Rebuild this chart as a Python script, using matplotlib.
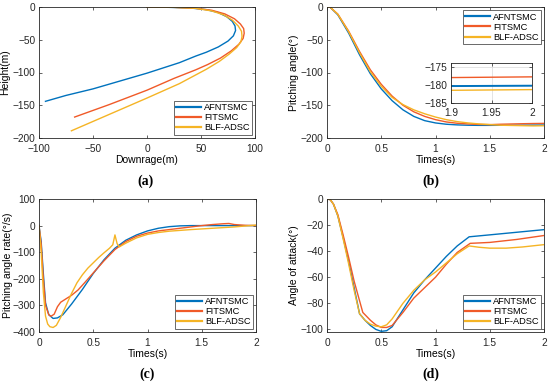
import matplotlib
matplotlib.use("Agg")
import matplotlib.pyplot as plt

plt.rcParams['font.family'] = ['Liberation Sans', 'DejaVu Sans']

labels = ["AFNTSMC", "FITSMC", "BLF-ADSC"]
colors = ["#0072BD", "#F05A28", "#F5B425"]

# ---- (a) trajectory: downrage (m) vs height (m)
a_blue_x = [0, 20, 40, 55, 66, 74, 79, 81.5, 82, 80, 75, 66, 55, 45, 30, 0, -25, -50, -75, -94]
a_blue_y = [0, -0.5, -1.5, -4, -8.5, -15, -22, -29, -36, -44, -52, -61, -69, -75, -85, -101, -113, -125, -135, -144]
a_red_x = [0, 25, 45, 60, 72, 81, 86.5, 89.5, 90, 89, 85, 78, 68, 56, 45, 25, 0, -35, -67]
a_red_y = [0, -0.5, -2, -5, -10.5, -18, -26, -33, -40, -48, -57, -67, -78, -88, -96, -109, -127, -149, -168]
a_yel_x = [0, 25, 45, 60, 71, 79, 84.5, 87.5, 88, 87, 83, 76, 67, 55, 30, 0, -35, -70]
a_yel_y = [0, -0.5, -2, -6, -12, -20, -29, -37, -45, -53, -62, -72, -83, -95, -117, -139, -164, -189]

# ---- (b) pitching angle (deg) vs time (s)
b_t = [0, 0.03, 0.1, 0.2, 0.3, 0.4, 0.5, 0.6, 0.7, 0.8, 0.9, 1.0, 1.1, 1.2, 1.3, 1.4, 1.5, 1.6, 1.8, 1.9, 2.0]
b_blue = [0, -0.5, -12, -40, -73, -102, -125, -143, -157, -167, -173.5, -177, -179, -180, -180.5, -180.7,
          -180.7, -180.6, -180.4, -180.3, -180.2]
b_red = [0, -0.5, -11, -37, -68, -96, -118, -136, -150, -160, -167, -172, -175.5, -177.5, -178.5, -179.3,
         -179.6, -179.0, -178.2, -177.9, -177.7]
b_yel = [0, -0.5, -11, -38, -70, -99, -121, -138, -149, -157, -163, -168, -172, -175, -177, -178.5,
         -179.5, -180.5, -181.2, -181.5, -181.3]

# ---- (c) pitching angle rate (deg/s) vs time (s)
c_t_blue = [0, 0.02, 0.04, 0.06, 0.09, 0.13, 0.17, 0.22, 0.3, 0.4, 0.5, 0.6, 0.7, 0.8, 0.9, 1.0, 1.1,
            1.2, 1.3, 1.4, 1.5, 1.75, 2.0]
c_blue = [0, -60, -180, -290, -335, -349, -347, -335, -295, -240, -180, -128, -85, -55, -35, -20, -10,
          -4, -1, 0, 0, 0, 0]
c_t_red = [0, 0.02, 0.04, 0.06, 0.09, 0.11, 0.14, 0.17, 0.2, 0.25, 0.3, 0.36, 0.42, 0.5, 0.6, 0.7, 0.8,
           0.9, 1.0, 1.1, 1.2, 1.3, 1.4, 1.5, 1.6, 1.7, 1.75, 1.8, 1.9, 2.0]
c_red = [0, -70, -200, -300, -335, -341, -333, -305, -288, -275, -262, -242, -215, -178, -132, -90, -60,
         -40, -28, -20, -15, -10, -5, 0, 4, 7, 8, 4, 1, 0]
c_t_yel = [0, 0.02, 0.04, 0.06, 0.08, 0.1, 0.13, 0.16, 0.2, 0.25, 0.3, 0.35, 0.4, 0.45, 0.5, 0.55, 0.6,
           0.65, 0.68, 0.7, 0.72, 0.74, 0.8, 0.9, 1.0, 1.1, 1.2, 1.4, 1.6, 1.8, 2.0]
c_yel = [0, -100, -250, -340, -370, -380, -383, -375, -345, -300, -255, -215, -185, -160, -140, -120,
         -102, -85, -72, -35, -68, -80, -66, -46, -33, -26, -21, -15, -10, -5, 2]

# ---- (d) angle of attack (deg) vs time (s)
d_t_blue = [0, 0.03, 0.06, 0.1, 0.15, 0.2, 0.25, 0.3, 0.35, 0.4, 0.45, 0.5, 0.55, 0.6, 0.7, 0.8, 0.9,
            1.0, 1.1, 1.2, 1.31, 1.5, 1.75, 2.0]
d_blue = [0, -0.5, -4, -13, -30, -48, -68, -88, -93, -97, -100, -101.5, -101, -98, -85, -72, -62,
          -53, -44, -36, -29, -27.5, -25.5, -23.5]
d_t_red = [0, 0.03, 0.06, 0.1, 0.15, 0.2, 0.25, 0.33, 0.4, 0.45, 0.5, 0.55, 0.6, 0.7, 0.8, 0.9, 1.0,
           1.1, 1.2, 1.32, 1.4, 1.5, 1.75, 2.0]
d_red = [0, -0.5, -4, -12, -28, -45, -63, -87, -93, -96.5, -98.5, -98.5, -97, -87, -76, -68, -60,
         -50, -41, -34, -33.7, -33.3, -31, -28]
d_t_yel = [0, 0.03, 0.06, 0.1, 0.15, 0.2, 0.25, 0.3, 0.35, 0.4, 0.45, 0.5, 0.55, 0.6, 0.7, 0.8, 0.9,
           1.0, 1.1, 1.2, 1.31, 1.4, 1.5, 1.65, 1.8, 2.0]
d_yel = [0, -0.5, -4, -13, -31, -50, -70, -88, -93, -96, -97.5, -98, -96.5, -92, -80, -70, -62,
         -56, -49, -42, -36, -37, -37.7, -37.7, -36.8, -35]

TICK_FS = 7.3
LAB_FS = 7.5
LEG_FS = 6.7
AXC = "#262626"

fig = plt.figure(figsize=(5.5, 3.84), dpi=100)


def style(ax):
    for s in ax.spines.values():
        s.set_color(AXC)
        s.set_linewidth(0.6)
    ax.tick_params(direction='in', top=True, right=True, length=2.5, width=0.5,
                   labelsize=TICK_FS, colors=AXC, pad=2.5)


def add_axes(l, t, r, b):
    W, H = 550.0, 384.0
    return fig.add_axes([l / W, 1 - b / H, (r - l) / W, (b - t) / H])


def legend(ax, loc):
    lg = ax.legend(loc=loc, fontsize=LEG_FS, frameon=True, fancybox=False, handlelength=2.6,
                   handletextpad=0.35, borderpad=0.25, labelspacing=0.12, borderaxespad=0.35)
    lg.get_frame().set_edgecolor(AXC)
    lg.get_frame().set_linewidth(0.6)
    for h in lg.get_lines():
        h.set_linewidth(1.6)
    return lg


LW = 1.0

# (a)
ax = add_axes(39, 7, 255, 138)
ax.plot(a_blue_x, a_blue_y, color=colors[0], lw=LW, label=labels[0])
ax.plot(a_red_x, a_red_y, color=colors[1], lw=LW, label=labels[1])
ax.plot(a_yel_x, a_yel_y, color=colors[2], lw=LW, label=labels[2])
ax.set_xlim(-100, 100)
ax.set_ylim(-200, 0)
ax.set_xticks([-100, -50, 0, 50, 100])
ax.set_yticks([0, -50, -100, -150, -200])
ax.set_xlabel("Downrage(m)", fontsize=LAB_FS, labelpad=1)
ax.set_ylabel("Height(m)", fontsize=LAB_FS, labelpad=2)
style(ax)
ax.tick_params(axis='x', pad=4)
legend(ax, 'lower right')
fig.text(146 / 550, 1 - 181 / 384, "(a)", ha='center', va='center', fontsize=10,
         fontweight='bold', family='Liberation Serif')

# (b)
ax = add_axes(327, 7, 544, 138)
ax.plot(b_t, b_blue, color=colors[0], lw=LW, label=labels[0])
ax.plot(b_t, b_red, color=colors[1], lw=LW, label=labels[1])
ax.plot(b_t, b_yel, color=colors[2], lw=LW, label=labels[2])
ax.set_xlim(0, 2)
ax.set_ylim(-200, 0)
ax.set_xticks([0, 0.5, 1, 1.5, 2])
ax.set_xticklabels(["0", "0.5", "1", "1.5", "2"])
ax.set_yticks([0, -50, -100, -150, -200])
ax.set_xlabel("Times(s)", fontsize=LAB_FS, labelpad=1)
ax.set_ylabel("Pitching angle(°)", fontsize=LAB_FS, labelpad=1)
style(ax)
ax.tick_params(axis='x', pad=4)
legend(ax, 'upper right')
fig.text(431 / 550, 1 - 181 / 384, "(b)", ha='center', va='center', fontsize=10,
         fontweight='bold', family='Liberation Serif')

# inset
ins = add_axes(451, 62.7, 532, 102.7)
ins.plot(b_t, b_red, color=colors[1], lw=LW)
ins.plot(b_t, b_blue, color=colors[0], lw=1.4)
ins.plot(b_t, b_yel, color=colors[2], lw=LW)
ins.set_xlim(1.9, 2)
ins.set_ylim(-185, -173.7)
ins.set_xticks([1.9, 1.95, 2])
ins.set_xticklabels(["1.9", "1.95", "2"])
ins.set_yticks([-175, -180, -185])
ins.grid(True, color="#d9d9d9", lw=0.5)
style(ins)
ins.tick_params(axis='x', pad=4)

# (c)
ax = add_axes(39, 199, 256, 332)
ax.plot(c_t_blue, c_blue, color=colors[0], lw=LW, label=labels[0])
ax.plot(c_t_red, c_red, color=colors[1], lw=LW, label=labels[1])
ax.plot(c_t_yel, c_yel, color=colors[2], lw=LW, label=labels[2])
ax.set_xlim(0, 2)
ax.set_ylim(-400, 100)
ax.set_xticks([0, 0.5, 1, 1.5, 2])
ax.set_xticklabels(["0", "0.5", "1", "1.5", "2"])
ax.set_yticks([100, 0, -100, -200, -300, -400])
ax.set_xlabel("Times(s)", fontsize=LAB_FS, labelpad=1)
ax.set_ylabel("Pitching angle rate(°/s)", fontsize=LAB_FS, labelpad=0)
style(ax)
ax.tick_params(axis='x', pad=4)
legend(ax, 'lower right')
fig.text(147 / 550, 1 - 374 / 384, "(c)", ha='center', va='center', fontsize=10,
         fontweight='bold', family='Liberation Serif')

# (d)
ax = add_axes(327, 199, 544, 332)
ax.plot(d_t_blue, d_blue, color=colors[0], lw=LW, label=labels[0])
ax.plot(d_t_red, d_red, color=colors[1], lw=LW, label=labels[1])
ax.plot(d_t_yel, d_yel, color=colors[2], lw=LW, label=labels[2])
ax.set_xlim(0, 2)
ax.set_ylim(-102, 0)
ax.set_xticks([0, 0.5, 1, 1.5, 2])
ax.set_xticklabels(["0", "0.5", "1", "1.5", "2"])
ax.set_yticks([0, -20, -40, -60, -80, -100])
ax.set_xlabel("Times(s)", fontsize=LAB_FS, labelpad=1)
ax.set_ylabel("Angle of attack(°)", fontsize=LAB_FS, labelpad=1)
style(ax)
ax.tick_params(axis='x', pad=4)
legend(ax, 'lower right')
fig.text(431 / 550, 1 - 374 / 384, "(d)", ha='center', va='center', fontsize=10,
         fontweight='bold', family='Liberation Serif')

fig.savefig("out.png", dpi=100)
